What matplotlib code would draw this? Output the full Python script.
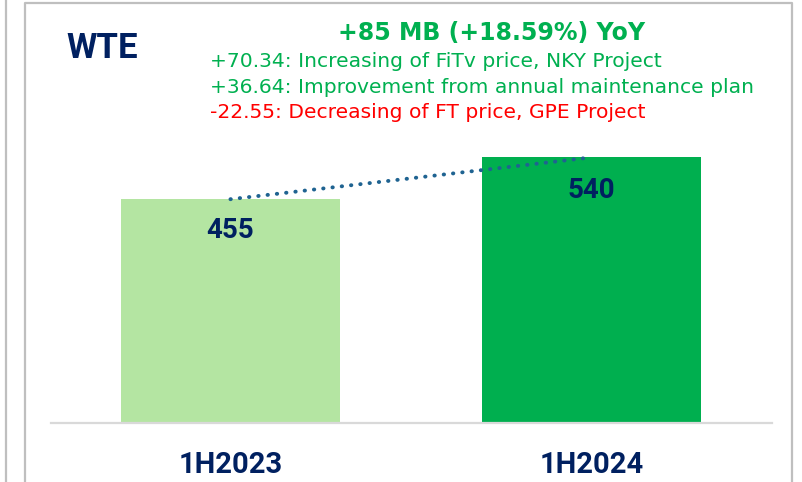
import matplotlib
matplotlib.use("Agg")
import matplotlib.pyplot as plt
from matplotlib.lines import Line2D
import numpy as np

# data
periods = ["1H2023", "1H2024"]
values = [455, 540]
bar_colors = ["#B4E5A2", "#00AF4F"]

title = "WTE"
headline = "+85 MB (+18.59%) YoY"
drivers = [
    "+70.34: Increasing of FiTv price, NKY Project",
    "+36.64: Improvement from annual maintenance plan",
    "-22.55: Decreasing of FT price, GPE Project",
]
driver_colors = ["#00B050", "#00B050", "#FF0000"]

navy = "#002060"
W, H = 803, 482

fig = plt.figure(figsize=(W / 100, H / 100), dpi=100)

def fx(px):
    return px / W

def fy(py):
    return 1 - py / H

# axes placed so the baseline sits at y=423 px
ax = fig.add_axes([fx(51), fy(423), fx(772) - fx(51), fy(0) - fy(423)])
x = np.arange(len(periods))
ax.bar(x, values, width=0.607, color=bar_colors, zorder=2)
ax.set_xlim(-0.497, 1.5)
ax.set_ylim(0, 860)

# dotted trend between the bar tops
ax.plot(x, values, color="#1F6391", lw=2.8,
        linestyle=(0, (0.1, 2.3)), dash_capstyle="round", zorder=3)

# value labels
label_offsets = [-31, -33]
for xi, v, off in zip(x, values, label_offsets):
    ax.text(xi, v + off / 0.4923, str(v), ha="center", va="center",
            fontsize=20, fontweight="bold", color=navy, family=["Roboto", "DejaVu Sans"])

for s in ["top", "right", "left"]:
    ax.spines[s].set_visible(False)
ax.spines["bottom"].set_color("#D9D9D9")
ax.spines["bottom"].set_linewidth(1.6)
ax.set_yticks([])
ax.set_xticks(x)
ax.set_xticklabels(periods, fontsize=21, fontweight="bold", color=navy,
                   family=["Roboto", "DejaVu Sans"])
ax.tick_params(axis="x", length=0, pad=20)
ax.patch.set_alpha(0)

# header texts
fig.text(fx(66), fy(58), title, fontsize=25, fontweight="bold", color=navy,
         family=["Roboto", "DejaVu Sans"], va="baseline", ha="left")
fig.text(fx(492), fy(40), headline, fontsize=17, fontweight="bold", color="#00B050",
         va="baseline", ha="center")
for txt, col, base in zip(drivers, driver_colors, [67, 93, 118]):
    fig.text(fx(210), fy(base), txt, fontsize=14.6, color=col, va="baseline", ha="left")

# panel borders
border = dict(color="#BFBFBF", lw=1.6, transform=fig.transFigure)
fig.add_artist(Line2D([fx(6.5), fx(6.5)], [0, 1], **border))
fig.add_artist(Line2D([fx(25), fx(25), fx(792.5), fx(792.5)],
                      [0, fy(3), fy(3), 0], **border))

fig.savefig("out.png", dpi=100)
